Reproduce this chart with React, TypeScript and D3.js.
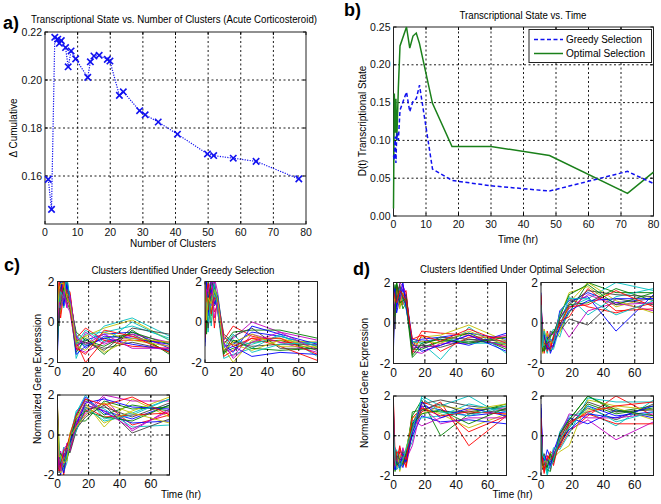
import React from "react";
import * as d3 from "d3";

// ---------- Panel a data ----------
const A_CLUSTERS = [1, 2, 3, 3.9, 4.4, 5, 6.3, 7.1, 8, 9.4, 13.1, 13.9, 15, 16.6, 19.1, 19.9, 22.8, 24, 29, 30.7, 34.7, 40.6, 49.8, 51.7, 57.7, 64.7, 77.8];
const A_DELTA = [0.1586, 0.1461, 0.2178, 0.217, 0.2153, 0.2164, 0.2135, 0.2055, 0.2121, 0.2088, 0.2011, 0.2076, 0.21, 0.2103, 0.2086, 0.2079, 0.1936, 0.1951, 0.1872, 0.1855, 0.1825, 0.1774, 0.1692, 0.1685, 0.1674, 0.1661, 0.1588];
const A_XTICKS = [0, 10, 20, 30, 40, 50, 60, 70, 80];
const A_YTICKS = [0.16, 0.18, 0.2, 0.22];

// ---------- Panel b data ----------
const B_TIME = [0, 0.25, 0.5, 0.75, 1, 1.5, 2, 4, 5, 6, 7, 8, 12, 18, 30, 48, 72, 80];
const B_GREEDY = [0.08, 0.074, 0.105, 0.07, 0.11, 0.1, 0.14, 0.164, 0.138, 0.152, 0.155, 0.173, 0.062, 0.047, 0.04, 0.033, 0.059, 0.043];
const B_OPTIMAL = [0.01, 0.162, 0.11, 0.155, 0.1, 0.17, 0.225, 0.25, 0.222, 0.238, 0.242, 0.228, 0.149, 0.092, 0.092, 0.08, 0.03, 0.058];
const B_XTICKS = [0, 10, 20, 30, 40, 50, 60, 70, 80];
const B_YTICKS = [0, 0.05, 0.1, 0.15, 0.2, 0.25];
const B_LEGEND = ["Greedy Selection", "Optimal Selection"];

// ---------- Panels c/d data ----------
const CL_TIME = [0, 1, 2, 4, 6, 8, 12, 18, 30, 48, 72];
const CL_XTICKS = [0, 20, 40, 60];
const CL_YTICKS = [-2, 0, 2];

const C1 = [
  [0.5, 1.2, 1.8, 1.5, 2.2, 1.0, -1.2, -0.9, -0.6, -0.5, -1.3],
  [-1.2, 0.8, 1.5, 2.3, 1.2, 0.9, -1.0, -1.1, -0.8, -0.6, -1.5],
  [1.3, 0.2, 1.0, 1.8, 1.4, 1.3, -0.8, -0.3, -0.9, -0.9, -1.0],
  [0.2, 1.5, 0.6, 1.2, 2.0, 1.1, -1.8, -0.6, -0.5, -0.2, -0.8],
  [-0.5, 0.3, 1.9, 1.0, 1.5, 0.7, -1.3, -1.5, -1.0, -0.7, -1.2],
  [1.5, 1.0, 0.4, 1.6, 0.9, 1.4, -0.9, -0.7, -0.3, 0.1, -0.9],
  [0.8, -0.2, 1.3, 2.1, 1.7, 0.8, -1.1, -1.0, -1.3, -1.0, -1.4],
  [-1.5, 0.6, 1.1, 0.9, 1.9, 1.2, -0.7, -1.3, -0.7, -0.8, -1.1],
  [0.0, 1.7, 2.0, 1.3, 1.0, 0.6, -1.5, -0.8, -1.6, -0.4, -1.6],
  [1.0, 0.9, 0.2, 1.4, 1.6, 1.5, -1.0, -2.0, -0.9, -1.2, -1.3],
  [-0.8, 1.3, 1.6, 0.7, 1.3, 1.0, -0.6, -1.2, -0.2, 0.2, -0.7],
  [0.6, 0.5, 1.4, 1.9, 0.8, 0.5, -1.4, -0.5, -1.1, -0.6, -1.0],
  [1.2, 1.9, 0.9, 1.1, 1.4, 1.2, -1.2, -1.4, -0.5, -0.9, -1.2],
  [-0.3, 0.1, 1.7, 1.6, 2.1, 0.9, -0.9, -1.0, -1.4, -0.3, -0.6],
  [0.9, 1.4, 2.2, 0.8, 1.8, 1.3, -1.6, -1.2, -0.8, -1.1, -1.4],
  [-1.0, 1.1, 0.8, 1.7, 1.1, 1.0, -0.5, -0.9, -1.2, -0.5, -1.1],
  [0.3, 2.0, 1.2, 2.0, 1.3, 0.8, -1.3, -1.6, -0.4, -0.7, -1.5],
  [1.6, 0.7, 1.5, 1.2, 2.3, 1.1, -1.1, -0.4, -1.0, 0.0, -0.9],
  [-0.2, 1.0, 0.7, 1.5, 0.7, 1.3, -0.8, -1.1, -0.6, -1.3, -1.3],
  [0.4, 1.6, 1.9, 1.9, 1.2, 0.9, -1.0, -0.7, -1.5, -0.8, -1.0],
];
const C2 = [
  [-1.0, 1.5, 0.5, 2.3, 1.2, 0.8, -1.2, -1.1, -0.5, -0.7, -1.2],
  [1.6, -0.4, 1.8, 0.3, 2.0, 1.0, -1.5, -1.3, -1.0, -0.9, -1.4],
  [0.5, 2.1, 0.8, 1.5, -0.3, 1.3, -0.9, -0.2, -0.7, -1.0, -1.0],
  [1.2, 1.0, -0.5, 1.9, 1.6, 0.6, -1.8, -1.6, -1.3, -0.6, -1.7],
  [-0.2, 0.6, 1.4, 0.8, 2.2, 1.5, -1.0, -0.8, 0.0, -0.5, -0.9],
  [0.9, 1.8, 1.1, 0.0, 1.3, 0.9, -1.3, -2.0, -0.9, -0.8, -1.3],
  [2.0, 0.2, 1.6, 1.2, 0.8, 1.2, -0.6, -1.0, -1.2, -1.1, -1.1],
  [-1.2, 1.3, 0.3, 2.1, 1.0, 0.7, -1.4, -1.2, -1.7, -1.5, -1.6],
  [0.7, -0.6, 2.0, 1.0, 1.8, 1.1, -1.1, -0.5, -0.4, -0.4, -0.8],
  [1.4, 1.2, 0.6, 1.7, 0.5, 0.8, -1.7, -1.4, -0.8, -1.2, -1.9],
  [0.1, 1.9, 1.3, -0.2, 1.5, 1.4, -0.8, -0.9, -1.1, -0.7, -1.2],
  [1.8, 0.4, 1.0, 1.4, 2.1, 0.5, -1.2, -1.7, -0.6, -1.0, -1.5],
  [0.3, 1.1, 1.7, 0.6, 1.1, 1.0, -1.0, -1.1, -1.4, -0.9, -1.0],
  [1.0, 0.8, -0.3, 1.3, 1.4, 1.2, -1.5, -0.7, -0.3, -1.3, -1.3],
  [0.4, 2.0, 1.2, 1.6, 0.9, 1.3, -1.1, -1.5, -0.2, -0.6, -1.1],
  [1.5, -0.2, 0.9, 2.0, 1.7, 0.9, -1.6, -0.9, -1.3, -1.4, -1.3],
  [-0.8, 1.4, 1.9, 0.4, 1.2, 1.1, -0.7, -1.2, -0.8, -0.8, -1.6],
  [1.1, 0.9, 0.0, 1.1, 1.9, 0.7, -1.3, -0.6, -1.5, -1.1, -1.0],
  [0.6, 1.6, 1.5, 2.2, 0.2, 1.0, -1.0, -1.8, -1.0, -0.5, -1.4],
  [1.9, 0.1, 1.2, 0.9, 1.6, 1.2, -1.4, -1.0, -0.6, -1.2, -1.2],
];
const C3 = [
  [0.5, -1.2, -1.5, -1.0, -0.8, -0.5, 0.6, 1.5, 1.2, 0.8, 1.5],
  [1.3, -0.5, -1.8, -1.2, -0.5, -0.2, 0.9, 1.8, 1.0, 1.5, 1.2],
  [-0.2, -1.6, -1.1, -2.0, -1.0, -0.8, 0.3, 1.2, 1.6, 0.5, 1.0],
  [0.8, -1.0, -1.4, -0.6, -1.2, 0.0, 1.1, 2.0, 0.8, 1.1, 1.8],
  [0.0, -1.8, -0.8, -1.5, -0.4, -0.6, 0.5, 1.0, 1.9, 0.2, 1.3],
  [1.5, -0.8, -1.6, -1.1, -1.3, -0.3, 0.8, 1.6, 0.4, 1.8, 0.9],
  [0.3, -1.4, -1.2, -1.7, -0.7, -0.9, 0.2, 1.3, 1.4, 0.9, 1.6],
  [-0.5, -1.1, -2.0, -0.9, -1.1, -0.4, 1.0, 1.9, 1.1, 0.6, 0.7],
  [1.0, -1.7, -1.3, -1.3, -0.6, -0.1, 0.7, 0.7, 1.7, 1.3, 1.4],
  [0.2, -0.9, -1.7, -1.4, -0.9, -0.7, 0.4, 1.4, 0.9, 1.0, 1.1],
  [1.2, -1.3, -1.0, -1.8, -1.4, -0.2, 1.2, 1.7, 1.3, 0.4, 0.5],
  [-0.3, -1.5, -1.6, -0.7, -0.5, -0.6, 0.6, 1.1, 2.0, 1.7, 1.7],
  [0.7, -1.0, -1.9, -1.2, -1.0, 0.1, 0.9, 1.5, 0.6, 1.2, 1.9],
  [0.4, -1.9, -1.2, -1.6, -0.8, -0.4, 0.3, 0.9, 1.5, 0.1, 0.8],
  [0.9, -1.5, -1.4, -1.9, -0.9, -0.3, 0.5, 1.6, 1.8, 1.4, 1.3],
  [-0.1, -1.2, -0.9, -1.3, -1.2, -0.7, 0.8, 1.2, 0.9, 0.7, 1.5],
  [1.4, -1.8, -1.5, -0.8, -0.6, 0.0, 1.0, 1.8, 1.5, 1.9, 1.0],
  [0.6, -0.7, -1.3, -1.5, -1.0, -0.5, 0.2, 1.4, 0.7, 1.0, 1.8],
  [0.2, -1.6, -1.8, -1.1, -0.7, -0.8, 0.6, 1.7, 1.2, 0.3, 1.2],
  [1.1, -1.1, -1.0, -1.4, -1.3, -0.1, 0.4, 1.0, 1.6, 1.1, 0.6],
];
const D1 = [
  [0.5, 1.8, 1.0, 1.5, 1.6, 1.2, -1.0, -0.8, -0.7, -0.5, -0.8],
  [1.5, 0.8, 2.0, 1.0, 1.2, 0.9, -1.7, -1.2, -0.9, -0.9, -1.0],
  [-0.5, 1.2, 1.5, 1.8, 0.9, 1.4, -1.2, -0.4, -0.5, -0.6, -1.2],
  [1.0, 0.0, 1.7, 1.3, 1.5, 1.0, -0.9, -1.0, -1.8, -0.2, -1.5],
  [0.2, 1.6, 0.7, 2.0, 1.8, 1.5, -1.4, -1.5, -1.0, -1.0, -0.6],
  [1.8, 1.0, 1.3, 0.8, 1.0, 1.1, -1.0, -0.7, -0.6, -0.1, -0.9],
  [0.8, -0.3, 1.9, 1.6, 1.3, 0.8, -1.1, -1.1, -1.2, -0.8, -1.1],
  [-1.2, 1.4, 0.5, 1.2, 1.7, 1.3, -0.8, -0.9, -0.8, -1.1, -0.5],
  [1.2, 1.9, 1.2, 1.4, 0.7, 1.0, -1.3, -1.3, -0.9, -0.5, -1.3],
  [0.0, 0.6, 1.8, 0.9, 1.4, 1.6, -1.5, -0.6, -1.4, -0.7, -0.7],
  [1.4, 1.1, 0.9, 1.7, 1.1, 0.7, -0.9, -1.0, -0.7, -1.0, -1.0],
  [0.6, 1.5, 1.4, 1.1, 1.9, 1.2, -1.2, -1.2, -1.1, -0.6, -1.2],
  [0.9, 1.3, 1.6, 0.7, 1.5, 1.0, -1.1, -0.9, -1.0, -0.4, -1.1],
  [-0.8, 0.9, 1.1, 1.9, 1.2, 1.4, -1.3, -1.1, -0.7, -0.8, -0.9],
  [1.3, 1.7, 0.8, 1.4, 2.0, 0.8, -1.0, -1.4, -1.1, -0.6, -1.4],
  [0.3, 0.4, 2.0, 1.0, 1.1, 1.2, -1.6, -1.0, -0.8, -1.0, -0.7],
  [1.6, 1.2, 1.0, 1.6, 1.4, 1.1, -0.8, -0.6, -0.9, -0.3, -1.0],
];
const D2 = [
  [1.5, -1.0, -0.5, -1.2, -0.8, -0.9, 0.2, 1.0, 1.5, 1.0, 1.2],
  [0.0, -1.3, -0.7, -0.9, -1.4, -0.6, -0.3, 0.5, 2.0, 1.5, 1.5],
  [0.8, -0.5, -1.5, -0.4, -1.0, -1.2, 0.5, 1.2, 0.8, 0.5, 1.0],
  [0.3, -1.1, -1.0, -1.5, -0.6, -0.3, -0.7, 0.8, 1.2, 2.0, 1.6],
  [1.2, -0.8, -1.3, -0.6, -1.2, -0.8, 0.0, -0.7, 0.6, 1.0, 0.6],
  [-0.2, -1.5, -0.3, -1.0, -0.9, -1.0, 0.3, 1.5, 1.8, 0.8, 1.3],
  [0.6, -0.2, -1.1, -1.3, -0.4, -0.5, -0.4, 0.2, -0.1, 1.2, 0.9],
  [1.0, -1.2, -0.8, -0.7, -1.5, -1.1, 0.6, 1.1, 1.3, -0.4, 1.4],
  [0.4, -0.9, -1.4, -1.1, -0.7, -0.4, -0.1, 0.9, 1.0, 1.7, 1.1],
  [1.4, -1.4, -0.6, -1.4, -1.1, -0.7, 0.1, 0.3, 1.7, 0.6, 0.7],
  [0.1, -0.6, -1.2, -0.8, -1.3, -1.3, -0.2, 1.3, 0.4, 1.3, 1.7],
  [0.9, -1.0, -0.9, -1.2, -0.5, -0.6, 0.4, 0.7, 1.4, 0.9, 1.0],
  [0.5, -1.3, -1.0, -0.5, -1.0, -0.9, -0.5, 1.0, 2.0, 1.1, 0.5],
  [0.7, -1.1, -1.2, -1.0, -0.9, -0.8, 0.2, 0.9, 1.6, 1.4, 1.3],
  [1.1, -0.7, -0.6, -1.3, -1.2, -1.1, -0.2, 0.6, 1.1, 1.2, 1.2],
  [0.2, -1.4, -1.3, -0.8, -0.6, -0.5, 0.3, 1.4, 1.9, 0.9, 1.5],
  [1.3, -0.9, -1.0, -1.1, -1.3, -0.7, -0.1, 0.8, 0.9, 1.6, 0.8],
  [0.9, -1.2, -0.4, -0.9, -0.8, -1.0, 0.5, 1.2, 1.2, 0.4, 1.1],
];
const D3 = [
  [1.0, -1.5, -1.2, -1.6, -1.0, -1.3, 0.5, 1.5, 1.3, 1.0, 1.2],
  [-0.5, -1.8, -0.8, -1.2, -1.5, -0.8, 1.0, 1.8, 0.0, 1.1, 1.6],
  [1.7, -1.0, -1.6, -0.6, -1.1, -1.6, 0.2, 1.2, 1.7, -0.5, 1.0],
  [0.3, -1.3, -1.1, -1.5, -0.7, -1.0, -0.3, 2.0, 1.5, 2.0, 0.9],
  [-1.0, -0.6, -1.7, -1.0, -1.4, -1.2, 0.8, 0.5, 0.9, 1.3, 1.4],
  [1.2, -1.6, -0.9, -1.8, -1.2, -0.6, 0.4, 1.4, 1.1, 0.4, 1.1],
  [0.0, -1.2, -1.4, -0.8, -0.9, -1.4, 0.6, 1.6, 1.8, 1.5, 1.3],
  [0.8, -1.7, -1.0, -1.3, -1.6, -0.9, 0.0, 1.0, 0.7, 0.8, 0.6],
  [-0.3, -0.9, -1.5, -1.1, -0.8, -1.1, 1.2, 1.3, 1.2, 1.2, 1.5],
  [1.5, -1.4, -1.3, -0.5, -1.3, -1.5, 0.3, 1.7, 1.4, 0.2, 1.0],
  [0.5, -1.1, -0.7, -1.7, -1.0, -0.7, 0.7, 0.9, 1.0, 1.6, 1.2],
  [-0.7, -1.6, -1.2, -1.4, -0.6, -1.2, -0.5, 1.5, 0.6, 0.9, 0.9],
  [0.9, -1.3, -1.6, -1.0, -1.1, -0.8, 0.9, 1.1, 1.5, 1.3, 1.6],
  [0.6, -1.4, -1.0, -1.2, -1.2, -1.0, 0.4, 1.3, 1.6, 1.1, 1.3],
  [1.3, -1.7, -1.3, -1.6, -0.9, -1.3, 0.1, 1.7, 0.9, 1.4, 1.0],
  [-0.2, -1.0, -1.5, -1.3, -1.4, -0.9, 0.6, 1.1, 1.3, 0.6, 1.4],
  [1.0, -1.5, -0.8, -0.9, -1.0, -1.2, 0.9, 1.4, 1.0, 1.2, 1.1],
  [0.2, -1.2, -1.7, -1.5, -1.2, -0.7, 0.3, 1.9, 1.2, 1.0, 1.5],
];
const D4 = [
  [1.6, -1.0, -1.5, -1.6, -1.2, -1.0, -0.3, 0.5, 1.5, 1.0, 1.2],
  [-0.5, -1.6, -1.0, -1.8, -1.5, -1.2, 0.0, 0.8, 2.0, 1.2, 1.5],
  [0.8, -1.2, -1.8, -1.3, -0.8, -0.9, -0.6, 0.2, 1.0, 2.0, 1.0],
  [0.2, -0.8, -1.3, -2.0, -1.3, -1.4, 0.2, 1.0, 1.2, 0.5, 1.8],
  [1.2, -1.4, -1.1, -1.0, -1.7, -0.7, -0.2, 0.3, 0.8, -0.2, 0.7],
  [-1.0, -1.1, -1.6, -1.4, -1.0, -1.1, -0.8, -0.5, 1.8, 1.5, 1.3],
  [0.5, -1.7, -0.9, -1.5, -1.4, -1.3, -0.4, 0.6, 1.4, 0.8, 1.6],
  [1.4, -1.3, -1.4, -0.7, -1.1, -0.8, 0.1, 0.9, 0.6, 1.3, 0.9],
  [0.0, -0.9, -1.2, -1.7, -1.8, -1.0, -0.5, 0.4, 1.6, 1.1, 1.4],
  [0.9, -1.5, -1.7, -1.2, -0.9, -1.5, -0.1, 0.7, 1.1, 0.6, 0.6],
  [-0.3, -1.2, -1.0, -1.9, -1.2, -0.6, -0.7, 0.1, 1.9, 1.7, 1.7],
  [1.1, -1.0, -1.5, -1.1, -1.6, -1.2, 0.0, 1.1, 0.9, 0.9, 1.1],
  [0.6, -1.6, -1.3, -1.3, -1.0, -0.9, -0.3, 0.5, 1.3, 1.4, 0.8],
  [0.4, -1.4, -1.6, -1.5, -1.3, -1.1, -0.2, 0.7, 1.7, 1.2, 1.3],
  [1.3, -1.1, -1.2, -1.2, -1.5, -0.9, -0.4, 0.3, 1.1, 0.9, 1.5],
  [-0.6, -1.5, -1.4, -1.6, -0.9, -1.3, 0.1, 0.8, 2.0, 1.3, 1.0],
  [0.9, -1.3, -1.9, -1.0, -1.2, -1.0, -0.5, 0.6, 1.2, 1.5, 1.7],
  [0.1, -1.0, -1.1, -1.4, -1.6, -1.2, -0.1, 0.4, 1.5, 0.7, 1.2],
];

const LINE_COLORS = ["#0000ff", "#008000", "#ff0000", "#00bfbf", "#bf00bf", "#bfbf00", "#404040"];

const FONT = "'Liberation Sans', Arial, Helvetica, sans-serif";

type Box = { l: number; r: number; t: number; b: number };

function Frame(props: {
  box: Box;
  x: d3.ScaleLinear<number, number>;
  y: d3.ScaleLinear<number, number>;
  xTicks: number[];
  yTicks: number[];
  xFmt: (v: number) => string;
  yFmt: (v: number) => string;
  fs: number;
  xLabOff: number;
  yLabOff: number;
}) {
  const { box, x, y, xTicks, yTicks, xFmt, yFmt, fs, xLabOff, yLabOff } = props;
  const tl = 3;
  return (
    <g>
      {xTicks.map((v) => {
        const px = x(v);
        const inner = px > box.l + 1 && px < box.r - 1;
        return (
          <g key={"x" + v}>
            {inner && (
              <line x1={px} x2={px} y1={box.t} y2={box.b} stroke="#000" strokeWidth={0.9} strokeDasharray="2,2.5" />
            )}
            <line x1={px} x2={px} y1={box.b} y2={box.b - tl} stroke="#000" />
            <line x1={px} x2={px} y1={box.t} y2={box.t + tl} stroke="#000" />
            <text x={px} y={box.b + xLabOff} textAnchor="middle" fontSize={fs} fontFamily={FONT} fill="#111">
              {xFmt(v)}
            </text>
          </g>
        );
      })}
      {yTicks.map((v) => {
        const py = y(v);
        const inner = py > box.t + 1 && py < box.b - 1;
        return (
          <g key={"y" + v}>
            {inner && (
              <line x1={box.l} x2={box.r} y1={py} y2={py} stroke="#000" strokeWidth={0.9} strokeDasharray="2,2.5" />
            )}
            <line x1={box.l} x2={box.l + tl} y1={py} y2={py} stroke="#000" />
            <line x1={box.r} x2={box.r - tl} y1={py} y2={py} stroke="#000" />
            <text x={box.l - yLabOff} y={py} dy="0.35em" textAnchor="end" fontSize={fs} fontFamily={FONT} fill="#111">
              {yFmt(v)}
            </text>
          </g>
        );
      })}
      <rect x={box.l} y={box.t} width={box.r - box.l} height={box.b - box.t} fill="none" stroke="#222" strokeWidth={1} />
    </g>
  );
}

function ClusterPlot(props: { id: string; box: Box; data: number[][] }) {
  const { id, box, data } = props;
  const x = d3.scaleLinear().domain([0, 72]).range([box.l, box.r]);
  const y = d3.scaleLinear().domain([-2, 2]).range([box.b, box.t]);
  const line = d3
    .line<number>()
    .x((_, i) => x(CL_TIME[i]))
    .y((d) => y(d));
  return (
    <g>
      <defs>
        <clipPath id={id}>
          <rect x={box.l} y={box.t} width={box.r - box.l} height={box.b - box.t} />
        </clipPath>
      </defs>
      <rect x={box.l} y={box.t} width={box.r - box.l} height={box.b - box.t} fill="#fff" />
      <g clipPath={`url(#${id})`}>
        {data.map((s, i) => (
          <path key={i} d={line(s) || ""} fill="none" stroke={LINE_COLORS[i % LINE_COLORS.length]} strokeWidth={0.9} />
        ))}
      </g>
      <Frame
        box={box}
        x={x}
        y={y}
        xTicks={CL_XTICKS}
        yTicks={CL_YTICKS}
        xFmt={(v) => String(v)}
        yFmt={(v) => String(v)}
        fs={12}
        xLabOff={13}
        yLabOff={3}
      />
    </g>
  );
}

export default function App() {
  // Panel a
  const aBox: Box = { l: 45, r: 306, t: 32, b: 224 };
  const ax = d3.scaleLinear().domain([0, 80]).range([aBox.l, aBox.r]);
  const ay = d3.scaleLinear().domain([0.14, 0.22]).range([aBox.b, aBox.t]);
  const aLine = d3
    .line<number>()
    .x((_, i) => ax(A_CLUSTERS[i]))
    .y((d) => ay(d));

  // Panel b
  const bBox: Box = { l: 393.5, r: 653.5, t: 27, b: 216 };
  const bx = d3.scaleLinear().domain([0, 80]).range([bBox.l, bBox.r]);
  const by = d3.scaleLinear().domain([0, 0.25]).range([bBox.b, bBox.t]);
  const bLine = d3
    .line<number>()
    .x((_, i) => bx(B_TIME[i]))
    .y((d) => by(d));

  const blue = "#1010f0";
  const green = "#1a801a";

  return (
    <svg width={661} height={504} style={{ position: "absolute", left: 0, top: 0, background: "#fff" }} fontFamily={FONT}>
      <rect width={661} height={504} fill="#fff" />

      {/* ---------- Panel a ---------- */}
      <text x={3} y={29} fontSize={18} fontWeight="bold" fontFamily={FONT}>a)</text>
      <text x={174} y={23} textAnchor="middle" fontSize={10} textLength={286} lengthAdjust="spacingAndGlyphs">
        Transcriptional State vs. Number of Clusters (Acute Corticosteroid)
      </text>
      <rect x={aBox.l} y={aBox.t} width={aBox.r - aBox.l} height={aBox.b - aBox.t} fill="#fff" />
      <Frame
        box={aBox}
        x={ax}
        y={ay}
        xTicks={A_XTICKS}
        yTicks={A_YTICKS}
        xFmt={(v) => String(v)}
        yFmt={(v) => d3.format(".2f")(v)}
        fs={10.5}
        xLabOff={12}
        yLabOff={3}
      />
      <path d={aLine(A_DELTA) || ""} fill="none" stroke={blue} strokeWidth={1.2} strokeDasharray="1.2,1.3" />
      {A_DELTA.map((d, i) => {
        const cx = ax(A_CLUSTERS[i]);
        const cy = ay(d);
        const s = 3.2;
        return (
          <g key={i} stroke={blue} strokeWidth={1.6}>
            <line x1={cx - s} y1={cy - s} x2={cx + s} y2={cy + s} />
            <line x1={cx - s} y1={cy + s} x2={cx + s} y2={cy - s} />
          </g>
        );
      })}
      <text x={173} y={247} textAnchor="middle" fontSize={10}>Number of Clusters</text>
      <text transform="translate(17,128) rotate(-90)" textAnchor="middle" fontSize={10}>Δ Cumulative</text>

      {/* ---------- Panel b ---------- */}
      <text x={344} y={16} fontSize={18} fontWeight="bold" fontFamily={FONT}>b)</text>
      <text x={523} y={19} textAnchor="middle" fontSize={10} textLength={127} lengthAdjust="spacingAndGlyphs">
        Transcriptional State vs. Time
      </text>
      <rect x={bBox.l} y={bBox.t} width={bBox.r - bBox.l} height={bBox.b - bBox.t} fill="#fff" />
      <Frame
        box={bBox}
        x={bx}
        y={by}
        xTicks={B_XTICKS}
        yTicks={B_YTICKS}
        xFmt={(v) => String(v)}
        yFmt={(v) => d3.format(".2f")(v)}
        fs={10.5}
        xLabOff={12}
        yLabOff={3}
      />
      <path d={bLine(B_OPTIMAL) || ""} fill="none" stroke={green} strokeWidth={1.5} />
      <path d={bLine(B_GREEDY) || ""} fill="none" stroke={blue} strokeWidth={1.5} strokeDasharray="4,2.5" />
      {/* legend */}
      <rect x={529} y={29.5} width={122.5} height={33} fill="#fff" stroke="#222" strokeWidth={1} />
      <line x1={534} x2={563} y1={39.5} y2={39.5} stroke={blue} strokeWidth={1.5} strokeDasharray="4,2.5" />
      <line x1={534} x2={563} y1={53.5} y2={53.5} stroke={green} strokeWidth={1.5} />
      <text x={566} y={43} fontSize={10} textLength={76} lengthAdjust="spacingAndGlyphs">{B_LEGEND[0]}</text>
      <text x={566} y={57} fontSize={10} textLength={79} lengthAdjust="spacingAndGlyphs">{B_LEGEND[1]}</text>
      <text x={518} y={243} textAnchor="middle" fontSize={10}>Time (hr)</text>
      <text transform="translate(366,121) rotate(-90)" textAnchor="middle" fontSize={10}>D(t) Transcriptional State</text>

      {/* ---------- Panel c ---------- */}
      <text x={4} y={271} fontSize={18} fontWeight="bold" fontFamily={FONT}>c)</text>
      <text x={183} y={274} textAnchor="middle" fontSize={10} textLength={183} lengthAdjust="spacingAndGlyphs">
        Clusters Identified Under Greedy Selection
      </text>
      <ClusterPlot id="c1" box={{ l: 57.5, r: 169.5, t: 281.5, b: 362.5 }} data={C1} />
      <ClusterPlot id="c2" box={{ l: 205, r: 317.5, t: 281.5, b: 362.5 }} data={C2} />
      <ClusterPlot id="c3" box={{ l: 57.5, r: 169.5, t: 395, b: 475 }} data={C3} />
      <text x={181} y={498} textAnchor="middle" fontSize={10}>Time (hr)</text>
      <text transform="translate(41,379) rotate(-90)" textAnchor="middle" fontSize={10}>Normalized Gene Expression</text>

      {/* ---------- Panel d ---------- */}
      <text x={353} y={275} fontSize={18} fontWeight="bold" fontFamily={FONT}>d)</text>
      <text x={512.5} y={273} textAnchor="middle" fontSize={10} textLength={185} lengthAdjust="spacingAndGlyphs">
        Clusters Identified Under Optimal Selection
      </text>
      <ClusterPlot id="d1" box={{ l: 393.5, r: 506.5, t: 282.5, b: 363.5 }} data={D1} />
      <ClusterPlot id="d2" box={{ l: 541, r: 653.5, t: 282.5, b: 363.5 }} data={D2} />
      <ClusterPlot id="d3" box={{ l: 393.5, r: 506.5, t: 396, b: 475.5 }} data={D3} />
      <ClusterPlot id="d4" box={{ l: 541, r: 653.5, t: 396, b: 475.5 }} data={D4} />
      <text x={512.5} y={498} textAnchor="middle" fontSize={10}>Time (hr)</text>
      <text transform="translate(368,383) rotate(-90)" textAnchor="middle" fontSize={10}>Normalized Gene Expression</text>
    </svg>
  );
}
